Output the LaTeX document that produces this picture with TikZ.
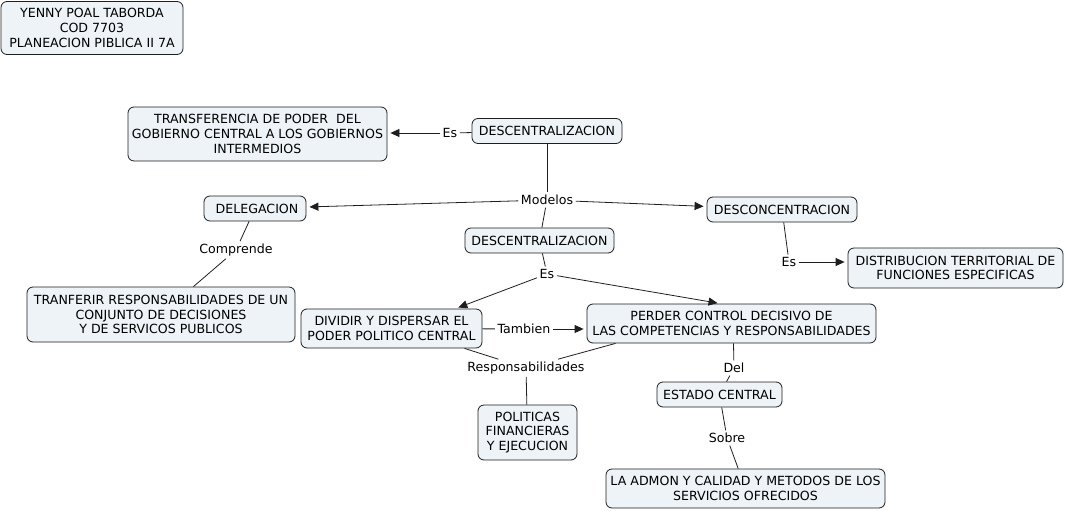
\documentclass[tikz,border=0pt]{standalone}
\usepackage{fontspec}
\setmainfont{DejaVu Sans}
\usetikzlibrary{arrows.meta,calc}
\definecolor{boxfill}{RGB}{237,243,246}
\definecolor{edge}{RGB}{30,30,30}
\begin{document}
\begin{tikzpicture}[x=1pt,y=-1pt,
  every node/.style={font=\fontsize{12.6}{14.6}\selectfont},
  concept/.style={draw=edge, fill=boxfill, rounded corners=6pt, align=center, inner sep=0pt, line width=0.8pt},
  lbl/.style={inner sep=2.5pt, align=center},
  conn/.style={draw=edge, line width=0.8pt},
  arr/.style={conn, -{Triangle[length=9pt,width=8pt]}, shorten >=3pt}]
\useasboundingbox (0,0) rectangle (1066,511);
% title
\node[concept, minimum width=182, minimum height=53] (title) at (92,28) {YENNY POAL TABORDA\\COD 7703\\PLANEACION PIBLICA II 7A};
% concepts
\node[concept, minimum width=259, minimum height=54] (transf) at (257.5,134) {TRANSFERENCIA DE PODER~ DEL\\GOBIERNO CENTRAL A LOS GOBIERNOS\\INTERMEDIOS};
\node[concept, minimum width=150, minimum height=25] (desc1) at (547,131) {DESCENTRALIZACION};
\node[concept, minimum width=102, minimum height=25] (deleg) at (255,208.5) {\hspace{4pt}DELEGACION};
\node[concept, minimum width=150, minimum height=25] (descon) at (782,209.5) {DESCONCENTRACION};
\node[concept, minimum width=149, minimum height=25] (desc2) at (539.5,240.5) {DESCENTRALIZACION};
\node[concept, minimum width=215, minimum height=40] (distrib) at (955.5,268) {DISTRIBUCION TERRITORIAL DE\\FUNCIONES ESPECIFICAS};
\node[concept, minimum width=268, minimum height=55] (tranf) at (161,314.5) {TRANFERIR RESPONSABILIDADES DE UN\\CONJUNTO DE DECISIONES\\Y DE SERVICOS PUBLICOS};
\node[concept, minimum width=181, minimum height=39] (dividir) at (391.5,328.5) {DIVIDIR Y DISPERSAR EL\\PODER POLITICO CENTRAL};
\node[concept, minimum width=289, minimum height=39] (perder) at (731.5,323.5) {PERDER CONTROL DECISIVO DE\\LAS COMPETENCIAS Y RESPONSABILIDADES};
\node[concept, minimum width=125, minimum height=25] (estado) at (719.5,394.5) {ESTADO CENTRAL};
\node[concept, minimum width=99, minimum height=55] (politicas) at (527.5,432.5) {POLITICAS\\FINANCIERAS\\Y EJECUCION};
\node[concept, minimum width=279, minimum height=39] (admon) at (745.5,488.5) {LA ADMON Y CALIDAD Y METODOS DE LOS\\SERVICIOS OFRECIDOS};
% labels
\node[lbl] (es1) at (450,133) {Es};
\node[lbl] (modelos) at (547,200) {Modelos};
\node[lbl] (compr) at (236,250) {Comprende};
\node[lbl] (es2) at (547,274) {Es};
\node[lbl] (es3) at (789,262) {Es};
\node[lbl] (tambien) at (524,329) {Tambien};
\node[lbl] (resp) at (526,368) {Responsabilidades};
\node[lbl] (del) at (734,368) {Del};
\node[lbl] (sobre) at (727,438) {Sobre};
% connectors
\draw[conn] (desc1) -- (es1);
\draw[arr] (es1) -- (es1 -| transf.east);
\draw[conn] (desc1) -- (modelos);
\draw[arr] (modelos) -- (deleg);
\draw[arr] (modelos) -- (descon);
\draw[conn] (modelos) -- (desc2);
\draw[conn] (deleg) -- (compr);
\draw[conn] (compr) -- (tranf);
\draw[conn] (desc2) -- (es2);
\draw[arr] (es2) -- ([xshift=64pt]dividir.north);
\draw[arr] (es2) -- ([xshift=-11pt]perder.north);
\draw[conn] (descon) -- (es3);
\draw[arr] (es3) -- (es3 -| distrib.west);
\draw[conn] (dividir) -- (tambien);
\draw[arr] (tambien) -- (tambien -| perder.west);
\draw[conn] ([xshift=73pt]dividir.south) -- (resp);
\draw[conn] ([xshift=-116pt]perder.south) -- (resp);
\draw[conn] (resp) -- (politicas);
\draw[conn] ([xshift=2pt]perder.south) -- (del);
\draw[conn] (del) -- (estado);
\draw[conn] (estado) -- (sobre);
\draw[conn] (sobre) -- (admon);
\end{tikzpicture}
\end{document}
